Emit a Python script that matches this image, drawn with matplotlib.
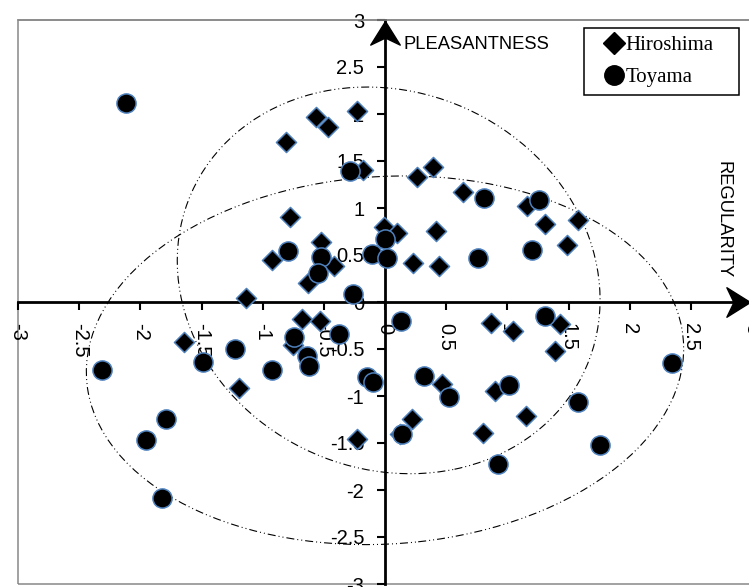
import matplotlib
matplotlib.use("Agg")
import matplotlib.pyplot as plt
from matplotlib.patches import Ellipse, Rectangle
from matplotlib.lines import Line2D
from matplotlib.path import Path

# regularity (x) / pleasantness (y) scores
hiro_x = [-0.23, -0.56, -0.47, -0.81, -0.18, 0.39, 0.26, 0.64, 1.16, 1.31,
          1.58, 1.49, -0.78, -0.01, 0.10, 0.42, -0.92, -0.52, -0.42, -0.63,
          0.23, 0.44, -1.14, -0.68, -0.53, -1.64, -0.75, 0.87, 1.05, 1.43,
          1.39, -1.19, 0.47, 0.90, 1.15, 0.80, 0.22, 0.12, -0.23]
hiro_y = [2.03, 1.97, 1.86, 1.70, 1.40, 1.44, 1.33, 1.17, 1.02, 0.83,
          0.87, 0.61, 0.90, 0.80, 0.73, 0.76, 0.45, 0.64, 0.38, 0.20,
          0.41, 0.38, 0.04, -0.18, -0.20, -0.43, -0.46, -0.22, -0.31, -0.23,
          -0.52, -0.91, -0.87, -0.95, -1.21, -1.39, -1.24, -1.40, -1.46]

toya_x = [-2.12, -0.29, 0.81, 1.26, 1.20, 0.76, 0.00, -0.11, 0.02, -0.79,
          -0.52, -0.55, -0.26, -2.31, -1.79, -1.95, -1.82, -1.49, -1.23, -0.92,
          -0.74, -0.64, -0.62, -0.38, 0.13, 1.31, 2.35, 0.32, 0.52, 1.01,
          1.58, 1.76, 0.92, 0.14, -0.15, -0.10]
toya_y = [2.12, 1.39, 1.11, 1.09, 0.55, 0.47, 0.67, 0.51, 0.47, 0.54,
          0.48, 0.31, 0.09, -0.72, -1.24, -1.47, -2.09, -0.64, -0.50, -0.72,
          -0.37, -0.57, -0.68, -0.34, -0.20, -0.15, -0.65, -0.79, -1.01, -0.88,
          -1.06, -1.52, -1.72, -1.40, -0.80, -0.85]

# spread ellipses: centre x, centre y, width, height, angle
ell_small = [0.03, 0.23, 3.40, 4.16, 15]
ell_large = [0.00, -0.62, 4.90, 3.90, 8]

ticks = [-3, -2.5, -2, -1.5, -1, -0.5, 0, 0.5, 1, 1.5, 2, 2.5, 3]
tick_labels = ["-3", "-2.5", "-2", "-1.5", "-1", "-0.5", "0", "0.5", "1", "1.5", "2", "2.5", "3"]

plt.rcParams['font.family'] = ['Liberation Sans', 'DejaVu Sans']

fig = plt.figure(figsize=(7.49, 5.87), dpi=100)
ax = fig.add_axes([18 / 749, 3 / 587, 734 / 749, 564 / 587])
ax.set_xlim(-3, 3)
ax.set_ylim(-3, 3)

# axes crossing at the origin
for s in ['left', 'bottom']:
    ax.spines[s].set_position('zero')
    ax.spines[s].set_linewidth(2.0)
    ax.spines[s].set_color('black')
for s in ['top', 'right']:
    ax.spines[s].set_color('#888888')
    ax.spines[s].set_linewidth(1.1)
ax.add_patch(Rectangle((0, 0), 1, 1, transform=ax.transAxes, fill=False,
                       edgecolor='#888888', lw=1.1, zorder=0.5, clip_on=False))

ax.set_xticks(ticks)
ax.set_xticklabels(tick_labels, rotation=-90)
ax.set_yticks(ticks)
ax.set_yticklabels(tick_labels)
ax.tick_params(axis='both', direction='out', length=6, width=1.5,
               labelsize=14.5, pad=9, colors='black')

# stealth arrowheads, tip at the marker origin
head_right = Path([(0, 0), (-20, 12.5), (-14, 0), (-20, -12.5), (0, 0)],
                  [Path.MOVETO, Path.LINETO, Path.LINETO, Path.LINETO, Path.CLOSEPOLY])
head_up = Path([(0, 0), (-12.5, -20), (0, -14), (12.5, -20), (0, 0)],
               [Path.MOVETO, Path.LINETO, Path.LINETO, Path.LINETO, Path.CLOSEPOLY])
ax.plot([2.98], [0], marker=head_right, markersize=34, color='black', ls='',
        clip_on=False, zorder=4)
ax.plot([0], [2.99], marker=head_up, markersize=34, color='black', ls='',
        clip_on=False, zorder=4)

ax.text(0.15, 2.74, 'PLEASANTNESS', fontsize=13.2, ha='left', va='center')
ax.text(2.76, 0.88, 'REGULARITY', fontsize=13.2, ha='center', va='center', rotation=-90)

dash = (0, (7.2, 2.7, 0.9, 2.7, 0.9, 2.7))
for cx, cy, w, h, ang in [ell_small, ell_large]:
    ax.add_patch(Ellipse((cx, cy), w, h, angle=ang, fill=False,
                         edgecolor='black', lw=0.8, linestyle=dash, zorder=2))

edge = '#4f81bd'
ax.scatter(hiro_x, hiro_y, marker='D', s=105, c='black', edgecolors=edge,
           linewidths=1.1, zorder=3)
ax.scatter(toya_x, toya_y, marker='o', s=190, c='black', edgecolors=edge,
           linewidths=1.1, zorder=3)

handles = [Line2D([], [], marker='D', ls='', color='black', markersize=11),
           Line2D([], [], marker='o', ls='', color='black', markersize=14)]
leg = ax.legend(handles, ['Hiroshima', 'Toyama'], loc='upper left',
                bbox_to_anchor=(584 / 749, 1 - 89 / 587, 155 / 749, 61 / 587),
                bbox_transform=fig.transFigure, mode='expand', borderaxespad=0,
                prop={'family': 'Liberation Serif', 'size': 15},
                handlelength=2.2, handletextpad=-0.55, borderpad=0.35,
                labelspacing=0.62, fancybox=False, framealpha=1, edgecolor='black')
leg.get_frame().set_linewidth(1.1)
leg.set_zorder(5)

fig.savefig('out.png', dpi=100)
